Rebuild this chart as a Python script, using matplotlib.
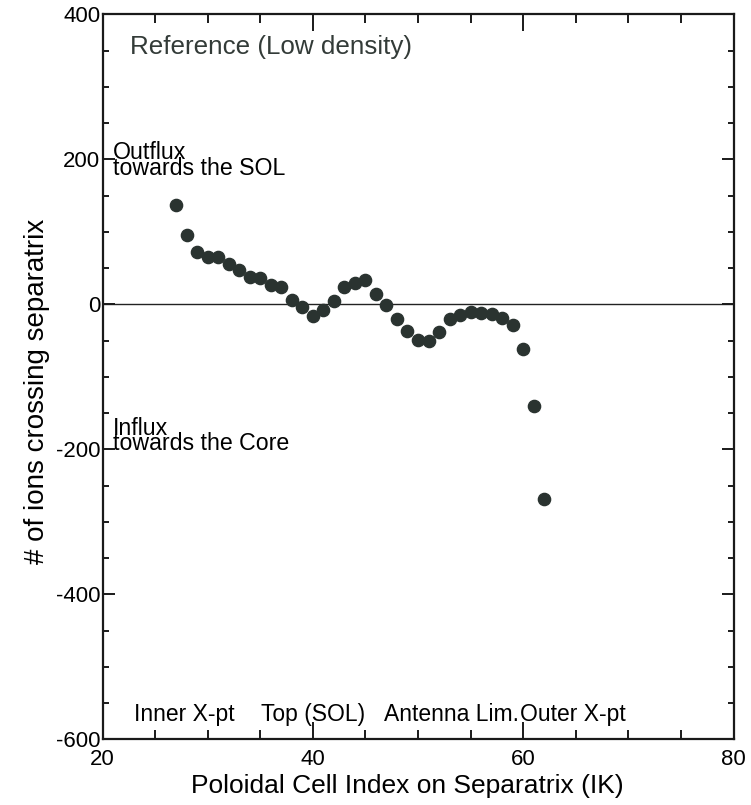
import matplotlib
matplotlib.use("Agg")
import matplotlib.pyplot as plt
from matplotlib.ticker import MultipleLocator

# poloidal cell index along the separatrix and net ion crossings per cell
ik = [27, 28, 29, 30, 31, 32, 33, 34, 35, 36, 37, 38, 39, 40, 41, 42, 43, 44,
      45, 46, 47, 48, 49, 50, 51, 52, 53, 54, 55, 56, 57, 58, 59, 60, 61, 62]
flux = [137, 95, 72, 66, 65, 56, 48, 38, 37, 27, 24, 6, -3, -16, -8, 5, 24, 29,
        33, 14, -1, -20, -37, -49, -51, -38, -20, -14, -10, -12, -13, -19, -29,
        -62, -140, -268]

region_labels = ["Inner X-pt", "Top (SOL)", "Antenna Lim.", "Outer X-pt"]
region_x = [23.0, 35.07, 46.75, 59.7]

dark = "#2a3330"

plt.rcParams["font.family"] = ["Liberation Sans", "DejaVu Sans"]
plt.rcParams["axes.unicode_minus"] = False

fig = plt.figure(figsize=(7.51, 8.05), dpi=100)
ax = fig.add_axes([0.1365, 0.0814, 0.8402, 0.9008])

ax.axhline(0, color="#222222", lw=1.0, zorder=1)
ax.plot(ik, flux, "o", ms=8.8, color=dark, mec=dark, zorder=3)

ax.set_xlim(20, 80)
ax.set_ylim(-600, 400)
ax.xaxis.set_major_locator(MultipleLocator(20))
ax.xaxis.set_minor_locator(MultipleLocator(5))
ax.yaxis.set_major_locator(MultipleLocator(200))
ax.yaxis.set_minor_locator(MultipleLocator(50))

for s in ax.spines.values():
    s.set_linewidth(1.6)
    s.set_color("#1a1a1a")

ax.tick_params(axis="both", which="both", direction="in", top=True, right=True,
               width=1.4, color="#1a1a1a", labelsize=16)
ax.tick_params(axis="x", which="major", length=12.5, pad=7)
ax.tick_params(axis="x", which="minor", length=6.8)
ax.tick_params(axis="y", which="major", length=8.6, pad=1.5)
ax.tick_params(axis="y", which="minor", length=4.3)

ax.set_xlabel("Poloidal Cell Index on Separatrix (IK)", fontsize=19)
ax.set_ylabel("# of ions crossing separatrix", fontsize=20)
ax.xaxis.set_label_coords(0.483, -0.047)
ax.yaxis.set_label_coords(-0.083, 0.48)

ax.text(22.6, 345, "Reference (Low density)", fontsize=18.7, color="#333b38",
        va="baseline")

ax.text(21.0, 200, "Outflux", fontsize=16.7, va="baseline")
ax.text(21.0, 179, "towards the SOL", fontsize=16.7, va="baseline")
ax.text(21.0, -180, "Influx", fontsize=16.7, va="baseline")
ax.text(21.0, -201, "towards the Core", fontsize=16.7, va="baseline")

for x, lab in zip(region_x, region_labels):
    ax.text(x, -574, lab, fontsize=16.5, va="baseline")

fig.savefig("out.png", dpi=100)
